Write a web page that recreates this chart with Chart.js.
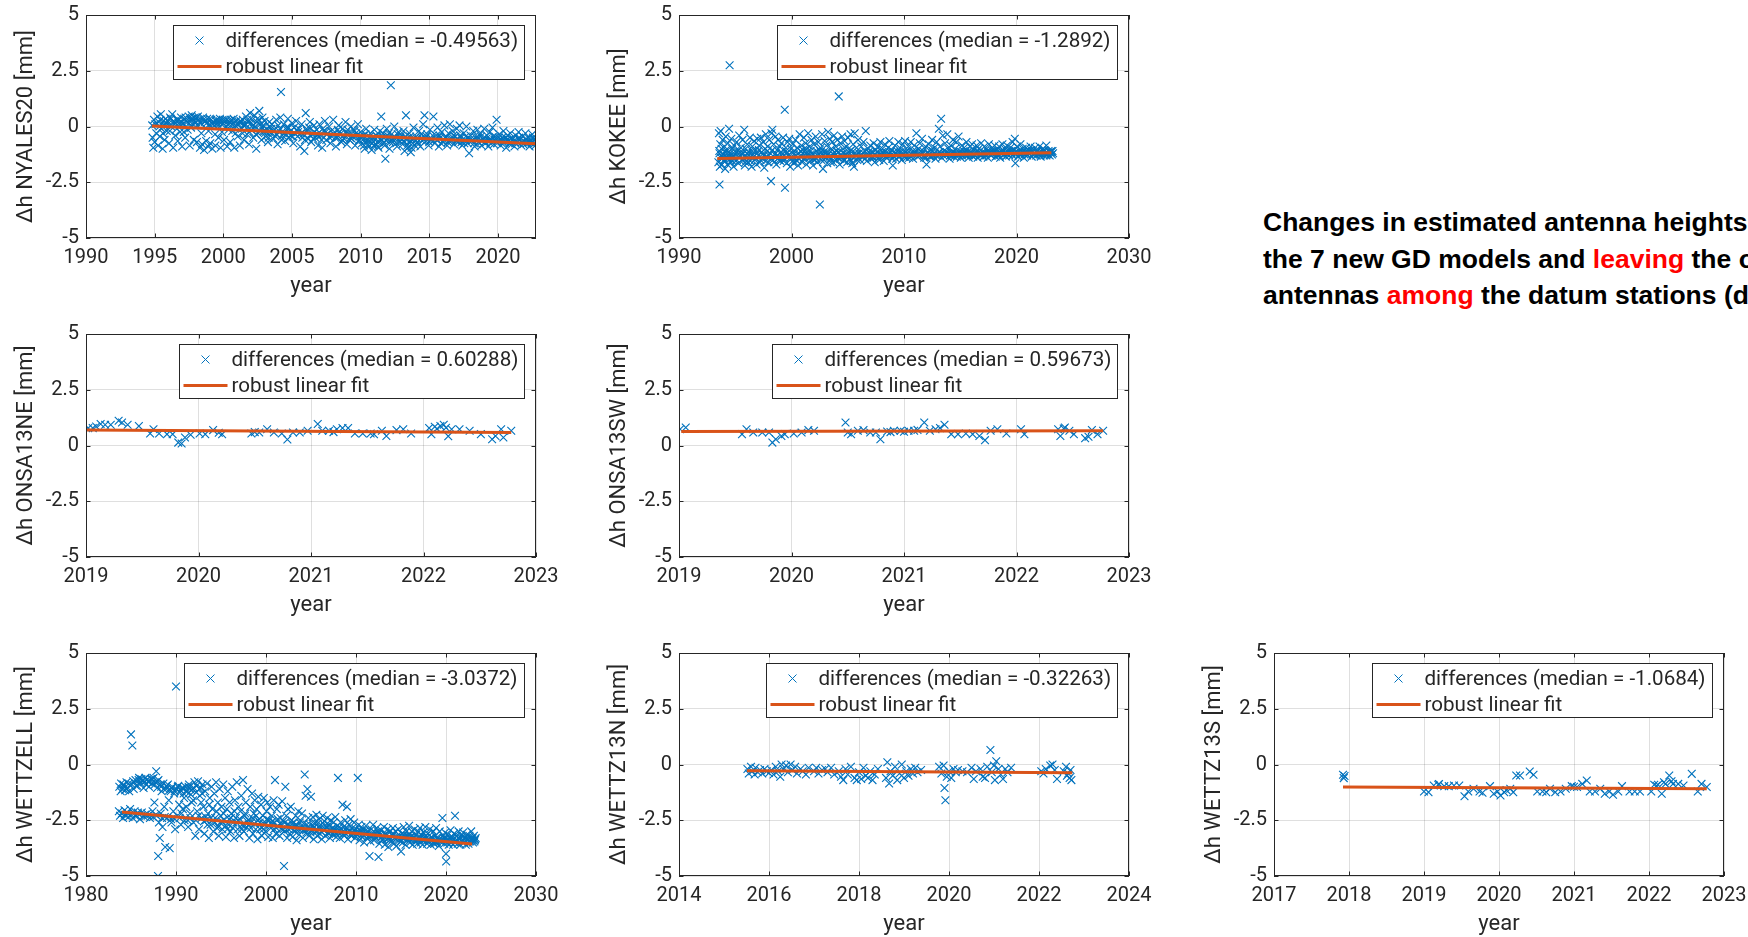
<!DOCTYPE html>
<html>
<head>
<meta charset="utf-8">
<script src="https://cdn.jsdelivr.net/npm/chart.js@4.4.1/dist/chart.umd.min.js"></script>
<style>
  body { margin: 0; background: #fff; width: 1748px; height: 937px; overflow: hidden; position: relative; }
  canvas { position: absolute; }
  #note { position: absolute; left: 1263px; top: 204px; font: bold 26.5px "Liberation Sans", Arial, sans-serif;
          line-height: 36.7px; white-space: nowrap; color: #000; }
  #note .red { color: #ff0000; }
</style>
</head>
<body>
<div id="note">Changes in estimated antenna heights<br>the 7 new GD models and <span class="red">leaving</span> the other<br>antennas <span class="red">among</span> the datum stations (d</div>
<script>
// ---- data ----
const stations = ['NYALES20', 'KOKEE', 'ONSA13NE', 'ONSA13SW', 'WETTZELL', 'WETTZ13N', 'WETTZ13S'];
const medians = ['-0.49563', '-1.2892', '0.60288', '0.59673', '-3.0372', '-0.32263', '-1.0684'];
const xMin = [1990, 1990, 2019, 2019, 1980, 2014, 2017];
const xMax = [2022.77, 2030, 2023, 2023, 2030, 2024, 2023];
const xStep = [5, 10, 1, 1, 10, 2, 1];
const yMin = -5, yMax = 5, yStep = 2.5;

// robust linear fit end points [year, mm]
const fits = [
  [[1994.8, 0.02], [2022.75, -0.77]],
  [[1993.4, -1.43], [2023.1, -1.18]],
  [[2019.0, 0.69], [2022.78, 0.58]],
  [[2019.02, 0.63], [2022.77, 0.66]],
  [[1984.0, -2.13], [2022.9, -3.57]],
  [[2015.51, -0.28], [2022.74, -0.37]],
  [[2017.92, -1.01], [2022.77, -1.09]]
];

const nyales20 = [
  [1994.82,0.05],[1994.85,-0.5],[1994.9,-0.95],[1994.95,0.3],[1995.0,-0.7],[1995.05,0.1],[1995.12,-0.3],[1995.2,0.45],[1995.25,-0.85],[1995.3,0.2],
  [1995.38,-0.45],[1995.45,0.55],[1995.5,-0.1],[1995.58,-1.0],[1995.65,0.25],[1995.72,-0.6],[1995.8,0.35],[1995.88,-0.2],[1995.95,0.1],[1996.05,-0.75],
  [1996.12,0.4],[1996.2,0.0],[1996.28,0.55],[1996.35,-0.95],[1996.42,0.2],[1996.5,-0.4],[1996.6,0.3],[1996.68,-0.65],[1996.75,0.15],[1996.85,-0.25],
  [1996.92,0.4],[1997.0,-0.9],[1997.08,0.1],[1997.15,0.35],[1997.22,-0.5],[1997.3,0.25],[1997.4,-0.15],[1997.48,0.45],[1997.55,-0.85],[1997.62,0.3],
  [1997.7,0.5],[1997.78,0.1],[1997.85,-0.6],[1997.92,0.4],[1998.0,0.2],[1998.08,-0.7],[1998.15,0.45],[1998.22,0.3],[1998.3,-0.95],[1998.38,0.15],
  [1998.45,-0.8],[1998.52,0.4],[1998.6,-1.05],[1998.68,0.25],[1998.75,-0.65],[1998.82,0.35],[1998.9,-0.9],[1998.98,0.1],[1999.05,-0.75],[1999.12,0.3],
  [1999.2,-1.0],[1999.28,0.2],[1999.35,0.05],[1999.42,-0.85],[1999.5,0.3],[1999.58,0.15],[1999.65,-0.5],[1999.72,0.25],[1999.8,-0.95],[1999.88,0.1],
  [1999.95,0.3],[2000.05,-0.6],[2000.12,0.2],[2000.2,0.0],[2000.28,-0.9],[2000.35,0.25],[2000.42,0.1],[2000.5,-0.7],[2000.58,0.3],[2000.65,-0.2],
  [2000.72,0.15],[2000.8,-0.95],[2000.88,0.05],[2000.95,0.25],[2001.05,-0.45],[2001.12,0.1],[2001.2,-0.85],[2001.28,0.2],[2001.35,-0.1],[2001.42,0.3],
  [2001.5,-0.6],[2001.58,0.05],[2001.65,0.45],[2001.72,-0.35],[2001.8,0.2],[2001.88,-0.8],[2001.95,0.6],[2002.02,-0.15],[2002.1,0.3],[2002.18,-0.5],
  [2002.25,0.5],[2002.32,0.0],[2002.4,-1.0],[2002.48,0.35],[2002.55,-0.3],[2002.62,0.7],[2002.7,0.1],[2002.78,-0.6],[2002.85,0.4],[2002.92,-0.2],
  [2003.0,0.25],[2003.08,-0.45],[2003.15,-0.1],[2003.25,-0.7],[2003.35,0.2],[2003.45,-0.3],[2003.55,0.1],[2003.65,-0.55],[2003.75,-0.15],[2003.85,0.3],
  [2003.95,-0.8],[2004.05,-0.2],[2004.15,0.4],[2004.2,1.55],[2004.3,-0.4],[2004.4,0.1],[2004.5,-0.65],[2004.6,-0.05],[2004.7,0.35],[2004.8,-0.5],
  [2004.9,-0.2],[2005.0,0.15],[2005.1,-0.75],[2005.2,-0.3],[2005.3,0.25],[2005.4,-0.45],[2005.5,-0.1],[2005.6,-0.9],[2005.7,0.1],[2005.8,-0.35],
  [2005.9,-1.1],[2006.0,0.6],[2006.1,-0.2],[2006.2,-0.55],[2006.3,0.2],[2006.4,-0.7],[2006.5,-0.3],[2006.6,0.05],[2006.7,-0.5],[2006.8,-0.15],
  [2006.9,-0.85],[2007.0,0.1],[2007.1,-0.4],[2007.2,-0.95],[2007.3,-0.2],[2007.4,0.25],[2007.5,-0.6],[2007.6,-0.3],[2007.7,0.0],[2007.8,-0.75],
  [2007.9,-0.45],[2008.0,0.3],[2008.1,-0.25],[2008.2,-0.9],[2008.3,-0.5],[2008.4,0.05],[2008.5,-0.35],[2008.6,-0.7],[2008.7,-0.1],[2008.8,-0.55],
  [2008.9,0.2],[2009.0,-0.8],[2009.1,-0.3],[2009.2,-0.6],[2009.3,0.0],[2009.4,-0.45],[2009.5,-0.15],[2009.6,-0.85],[2009.7,-0.4],[2009.8,0.1],
  [2009.9,-0.6],[2010.0,-0.25],[2010.1,-0.75],[2010.2,-0.4],[2010.3,-1.0],[2010.4,-0.1],[2010.5,-0.6],[2010.6,-0.9],[2010.7,-0.3],[2010.8,-1.05],
  [2010.9,-0.5],[2011.0,-0.15],[2011.1,-0.8],[2011.2,-0.45],[2011.3,-0.95],[2011.4,-0.2],[2011.5,0.45],[2011.55,-0.6],[2011.65,-0.3],[2011.75,-0.85],
  [2011.8,-1.45],[2011.9,-0.1],[2012.0,-0.55],[2012.1,-1.0],[2012.2,1.85],[2012.25,-0.35],[2012.35,-0.7],[2012.45,0.0],[2012.55,-0.5],[2012.65,-0.9],
  [2012.75,-0.25],[2012.85,-0.65],[2012.95,-0.4],[2013.05,-0.8],[2013.12,-0.2],[2013.2,-1.1],[2013.3,0.5],[2013.35,-0.55],[2013.45,-0.95],[2013.55,-0.3],
  [2013.65,-1.15],[2013.75,-0.6],[2013.85,-0.05],[2013.95,-0.85],[2014.05,-0.45],[2014.15,-0.7],[2014.25,-0.2],[2014.35,-0.9],[2014.45,-0.5],[2014.55,0.1],
  [2014.65,0.5],[2014.75,-0.65],[2014.85,-0.35],[2014.95,-0.85],[2015.05,-0.15],[2015.15,-0.55],[2015.3,0.45],[2015.4,-0.75],[2015.5,-0.4],[2015.6,-0.05],
  [2015.7,-0.9],[2015.8,-0.5],[2015.9,-0.25],[2016.0,-0.7],[2016.1,0.05],[2016.2,-0.45],[2016.3,-0.85],[2016.4,-0.3],[2016.5,0.1],[2016.6,-0.6],
  [2016.7,-0.2],[2016.8,-0.8],[2016.9,-0.45],[2017.0,-0.1],[2017.1,-0.7],[2017.2,0.05],[2017.3,-0.5],[2017.4,-0.85],[2017.5,-0.3],[2017.6,-0.6],
  [2017.7,0.0],[2017.8,-0.75],[2017.9,-1.2],[2018.0,-0.4],[2018.1,-0.65],[2018.2,-0.2],[2018.3,-0.9],[2018.4,-0.5],[2018.5,-0.15],[2018.6,-0.7],
  [2018.7,-0.35],[2018.8,-0.85],[2018.9,-0.55],[2019.0,-0.1],[2019.1,-0.75],[2019.2,-0.4],[2019.3,-0.9],[2019.4,-0.25],[2019.5,-0.6],[2019.6,-0.05],
  [2019.7,-0.8],[2019.8,-0.45],[2019.9,0.3],[2020.0,-0.65],[2020.1,-0.35],[2020.2,-0.85],[2020.3,-0.5],[2020.4,-0.2],[2020.5,-0.7],[2020.6,-0.95],
  [2020.7,-0.4],[2020.8,-0.6],[2020.9,-0.3],[2021.0,-0.8],[2021.1,-0.55],[2021.2,-0.9],[2021.3,-0.4],[2021.4,-0.7],[2021.5,-0.25],[2021.6,-0.6],
  [2021.7,-0.85],[2021.8,-0.45],[2021.9,-0.65],[2022.0,-0.3],[2022.1,-0.75],[2022.2,-0.5],[2022.3,-0.9],[2022.4,-0.6],[2022.5,-0.35],[2022.6,-0.8],
  [2022.7,-0.55],[2022.74,-0.7],
  [1995.15,0.15],[1995.42,0.3],[1995.68,0.05],[1995.92,0.25],[1996.18,0.35],[1996.45,0.1],[1996.72,0.3],[1996.98,0.2],[1997.25,0.4],[1997.52,0.15],
  [1997.75,0.35],[1998.05,0.4],[1998.27,0.2],[1998.55,0.3],[1998.78,0.15],[1999.02,0.35],[1999.25,0.1],[1999.48,0.25],[1999.75,0.35],[2000.0,0.15],
  [2000.25,0.3],[2000.48,0.2],[2000.75,0.35],[2001.0,0.1],[2001.25,0.25],[2001.48,0.05],[2001.75,0.3],[2002.0,0.15],[2002.22,-0.1],[2002.45,0.2],
  [2002.68,-0.2],[2002.9,0.05],[2003.12,-0.25],[2003.38,0.0],[2003.62,-0.2],[2003.88,-0.35],[2004.12,-0.1],[2004.38,-0.3],[2004.62,-0.15],[2004.88,-0.4],
  [2005.15,-0.05],[2005.45,-0.25],[2005.75,-0.5],[2006.05,-0.1],[2006.35,-0.4],[2006.65,-0.25],[2006.95,-0.45],[2007.25,-0.1],[2007.55,-0.35],[2007.85,-0.2],
  [2008.15,-0.5],[2008.45,-0.25],[2008.75,-0.4],[2009.05,-0.15],[2009.35,-0.55],[2009.65,-0.3],[2009.95,-0.45],[2010.15,-0.6],[2010.35,-0.35],[2010.55,-0.8],
  [2010.75,-0.55],[2010.95,-0.85],[2011.15,-0.4],[2011.35,-0.7],[2011.6,-0.45],[2011.85,-0.6],[2012.05,-0.3],[2012.3,-0.55],[2012.6,-0.75],[2012.9,-0.5],
  [2013.15,-0.65],[2013.4,-0.85],[2013.6,-0.45],[2013.8,-0.75],[2014.1,-0.55],[2014.4,-0.35],[2014.7,-0.5],[2015.0,-0.7],[2015.25,-0.4],[2015.55,-0.6],
  [2015.85,-0.75],[2016.15,-0.5],[2016.45,-0.65],[2016.75,-0.4],[2017.05,-0.55],[2017.35,-0.7],[2017.65,-0.45],[2017.95,-0.6],[2018.25,-0.75],[2018.55,-0.5],
  [2018.85,-0.65],[2019.15,-0.55],[2019.45,-0.75],[2019.75,-0.6],[2020.05,-0.5],[2020.35,-0.7],[2020.65,-0.6],[2020.95,-0.55],[2021.25,-0.75],[2021.55,-0.5],
  [2021.85,-0.8],[2022.15,-0.65],[2022.45,-0.75],[2022.65,-0.6],
  [1995.35,0.0],[1995.6,-0.3],[1995.85,0.15],[1996.1,-0.2],[1996.38,0.25],[1996.62,-0.1],[1996.88,0.05],[1997.12,-0.25],[1997.38,0.2],[1997.65,-0.05],
  [1997.9,0.25],[1998.12,0.05],[1998.4,-0.3],[1998.65,0.2],[1998.92,-0.2],[1999.15,0.15],[1999.4,-0.35],[1999.62,0.05],[1999.9,-0.25],[2000.1,0.3],
  [2000.38,-0.15],[2000.62,0.1],[2000.9,-0.3],[2001.15,0.2],[2001.4,-0.3],[2001.62,0.1],[2001.9,-0.25],[2002.15,0.05],[2002.38,-0.35],[2002.6,0.3],
  [2002.82,-0.05],[2003.05,-0.2],[2003.3,-0.5],[2003.5,-0.1],[2003.8,-0.45],[2004.0,0.05],[2004.25,-0.6],[2004.55,-0.35],[2004.75,-0.05],[2005.05,-0.45],
  [2005.35,-0.15],[2005.65,-0.3],[2005.95,-0.6],[2006.25,-0.05],[2006.55,-0.55],[2006.85,-0.35],[2007.15,-0.6],[2007.45,-0.25],[2007.75,-0.5],[2008.05,-0.35],
  [2008.35,-0.15],[2008.65,-0.6],[2008.95,-0.3],[2009.25,-0.5],[2009.55,-0.2],[2009.85,-0.65],[2010.05,-0.45],[2010.25,-0.85],[2010.45,-0.65],[2010.65,-0.45],
  [2010.85,-0.75],[2011.05,-0.6],[2011.25,-0.9],[2011.45,-0.55],[2011.7,-0.75],[2011.95,-0.4],[2012.15,-0.7],[2012.4,-0.5],[2012.7,-0.35],[2013.0,-0.6],
  [2013.25,-0.45],[2013.5,-0.7],[2013.7,-0.95],[2013.9,-0.55],[2014.2,-0.8],[2014.5,-0.65],[2014.8,-0.45],[2015.1,-0.6],[2015.45,-0.55],[2015.75,-0.4],
  [2016.05,-0.6],[2016.35,-0.7],[2016.65,-0.55],[2016.95,-0.65],[2017.25,-0.4],[2017.55,-0.75],[2017.85,-0.5],[2018.15,-0.6],[2018.45,-0.8],[2018.75,-0.45],
  [2019.05,-0.7],[2019.35,-0.6],[2019.65,-0.45],[2019.95,-0.75],[2020.25,-0.6],[2020.55,-0.5],[2020.85,-0.75],[2021.15,-0.65],[2021.45,-0.55],[2021.75,-0.7],
  [2022.05,-0.55],[2022.35,-0.7],[2022.55,-0.5],[2022.72,-0.85]
];

const kokee = [
  [1993.5,-1.6],[1993.55,-0.3],[1993.58,-1.1],[1993.6,-2.6],[1993.63,-1.8],[1993.67,-0.8],[1993.7,-0.2],[1993.72,-1.4],[1993.78,-1.0],[1993.82,-1.7],
  [1993.88,-0.6],[1993.92,-1.25],[1993.98,-1.55],[1994.05,-0.9],[1994.1,-1.9],[1994.15,-0.45],[1994.2,-1.35],[1994.25,-1.1],[1994.3,-1.7],[1994.35,-0.75],
  [1994.4,-1.45],[1994.45,-0.1],[1994.5,2.75],[1994.55,-1.2],[1994.6,-1.6],[1994.65,-0.55],[1994.72,-1.0],[1994.78,-1.4],[1994.85,-1.8],[1994.9,-0.85],
  [1994.98,-1.25],[1995.05,-1.55],[1995.12,-0.7],[1995.2,-1.1],[1995.28,-1.65],[1995.35,-0.4],[1995.42,-1.3],[1995.5,-0.95],[1995.58,-1.5],[1995.65,-0.6],
  [1995.72,-1.2],[1995.8,-0.15],[1995.85,-1.75],[1995.92,-1.0],[1996.0,-1.4],[1996.08,-0.8],[1996.15,-1.6],[1996.22,-1.15],[1996.3,-0.5],[1996.38,-1.35],
  [1996.45,-1.8],[1996.52,-0.9],[1996.6,-1.25],[1996.68,-0.65],[1996.75,-1.5],[1996.82,-1.05],[1996.9,-1.7],[1996.96,-0.55],[1997.05,-1.3],[1997.12,-0.85],
  [1997.2,-1.6],[1997.28,-0.5],[1997.35,-1.15],[1997.42,-1.45],[1997.5,-0.7],[1997.58,-1.85],[1997.65,-1.0],[1997.72,-0.35],[1997.8,-1.35],[1997.88,-0.9],
  [1997.95,-1.6],[1998.02,-0.6],[1998.1,-1.2],[1998.18,-2.45],[1998.22,-0.3],[1998.3,-0.15],[1998.35,-1.5],[1998.42,-0.8],[1998.5,-1.25],[1998.58,-0.45],
  [1998.65,-1.7],[1998.72,-1.05],[1998.8,-0.6],[1998.88,-1.4],[1998.95,-0.9],[1999.02,-1.55],[1999.1,-0.75],[1999.18,-1.2],[1999.25,-0.5],[1999.35,-1.45],
  [1999.4,0.75],[1999.42,-2.75],[1999.5,-0.95],[1999.58,-1.65],[1999.65,-0.7],[1999.72,-1.3],[1999.8,-0.55],[1999.88,-1.8],[1999.95,-1.0],[2000.05,-1.4],
  [2000.12,-0.8],[2000.2,-1.65],[2000.28,-1.1],[2000.35,-0.6],[2000.42,-1.5],[2000.5,-0.95],[2000.58,-1.75],[2000.65,-1.2],[2000.72,-0.35],[2000.8,-1.35],
  [2000.88,-0.85],[2000.95,-1.6],[2001.02,-1.05],[2001.1,-0.5],[2001.18,-1.4],[2001.25,-0.75],[2001.32,-1.7],[2001.4,-1.15],[2001.48,-0.3],[2001.55,-1.3],
  [2001.62,-0.9],[2001.7,-1.55],[2001.78,-0.6],[2001.85,-1.2],[2001.92,-1.75],[2002.0,-0.8],[2002.08,-1.35],[2002.15,-0.45],[2002.22,-1.1],[2002.3,-1.6],
  [2002.38,-0.7],[2002.45,-1.25],[2002.52,-3.5],[2002.58,-0.95],[2002.65,-1.5],[2002.72,-0.35],[2002.8,-1.9],[2002.88,-1.15],[2002.95,-0.65],[2003.02,-1.4],
  [2003.1,-0.85],[2003.18,-1.65],[2003.25,-0.25],[2003.32,-1.2],[2003.4,-0.55],[2003.48,-1.45],[2003.55,-1.0],[2003.62,-0.7],[2003.7,-1.6],[2003.78,-0.4],
  [2003.85,-1.3],[2003.92,-0.9],[2004.0,-1.5],[2004.08,-0.6],[2004.15,-1.15],[2004.2,1.35],[2004.28,-1.7],[2004.35,-0.75],[2004.42,-1.35],[2004.5,-0.45],
  [2004.58,-1.0],[2004.65,-1.55],[2004.72,-0.65],[2004.8,-1.25],[2004.88,-0.9],[2004.95,-1.6],[2005.02,-0.5],[2005.1,-1.15],[2005.18,-1.45],[2005.25,-0.35],
  [2005.32,-1.05],[2005.4,-1.65],[2005.48,-0.8],[2005.55,-1.8],[2005.62,-0.3],[2005.7,-1.3],[2005.78,-0.95],[2005.85,-1.5],[2005.92,-0.6],[2006.0,-1.2],
  [2006.1,-1.5],[2006.2,-0.9],[2006.3,-1.35],[2006.4,-0.7],[2006.5,-1.1],[2006.6,-0.2],[2006.7,-1.55],[2006.8,-1.0],[2006.9,-1.3],[2007.0,-0.85],
  [2007.1,-1.45],[2007.2,-1.15],[2007.3,-0.75],[2007.4,-1.6],[2007.5,-1.05],[2007.6,-1.35],[2007.7,-0.9],[2007.8,-1.5],[2007.9,-0.7],[2008.0,-1.25],
  [2008.1,-1.0],[2008.2,-1.55],[2008.3,-0.8],[2008.4,-1.2],[2008.5,-1.4],[2008.6,-0.95],[2008.7,-0.65],[2008.8,-1.3],[2008.9,-1.05],[2009.0,-1.75],
  [2009.1,-1.15],[2009.2,-0.85],[2009.3,-1.45],[2009.4,-1.1],[2009.5,-0.7],[2009.6,-1.35],[2009.7,-1.0],[2009.8,-1.5],[2009.9,-0.8],[2010.0,-1.25],
  [2010.1,-0.65],[2010.2,-1.4],[2010.3,-1.05],[2010.4,-0.9],[2010.5,-1.3],[2010.6,-0.7],[2010.7,-1.15],[2010.8,-1.45],[2010.9,-0.85],[2011.0,-1.2],
  [2011.1,-0.3],[2011.2,-1.35],[2011.3,-1.0],[2011.4,-0.75],[2011.5,-1.25],[2011.6,-0.55],[2011.7,-1.1],[2011.8,-1.4],[2011.9,-0.9],[2012.0,-1.7],
  [2012.1,-1.15],[2012.2,-0.8],[2012.3,-1.35],[2012.4,-1.05],[2012.5,-0.6],[2012.6,-1.3],[2012.7,-0.95],[2012.8,-1.45],[2012.9,-0.7],[2013.0,-1.2],
  [2013.1,-0.1],[2013.2,-0.9],[2013.3,0.35],[2013.35,-1.4],[2013.45,-0.4],[2013.55,-1.1],[2013.65,-0.75],[2013.75,-1.3],[2013.85,-0.35],[2013.95,-1.0],
  [2014.05,-1.45],[2014.15,-0.85],[2014.25,-1.2],[2014.35,-0.6],[2014.45,-1.35],[2014.55,-1.0],[2014.65,-0.7],[2014.75,-1.25],[2014.85,-0.45],[2014.95,-1.1],
  [2015.05,-1.4],[2015.15,-0.85],[2015.25,-1.2],[2015.35,-0.95],[2015.45,-1.3],[2015.55,-0.7],[2015.65,-1.15],[2015.75,-1.4],[2015.85,-0.9],[2015.95,-1.25],
  [2016.05,-0.8],[2016.15,-1.35],[2016.25,-1.05],[2016.35,-1.2],[2016.45,-0.85],[2016.55,-1.4],[2016.65,-1.0],[2016.75,-1.25],[2016.85,-0.75],[2016.95,-1.15],
  [2017.05,-1.35],[2017.15,-0.9],[2017.25,-1.2],[2017.35,-1.0],[2017.45,-1.4],[2017.55,-0.8],[2017.65,-1.15],[2017.75,-1.3],[2017.85,-0.95],[2017.95,-1.2],
  [2018.05,-0.85],[2018.15,-1.35],[2018.25,-1.05],[2018.35,-1.2],[2018.45,-0.9],[2018.55,-1.4],[2018.65,-1.1],[2018.75,-0.8],[2018.85,-1.25],[2018.95,-1.0],
  [2019.05,-1.35],[2019.15,-0.85],[2019.25,-1.15],[2019.35,-1.3],[2019.45,-0.95],[2019.55,-1.2],[2019.65,-0.7],[2019.75,-1.05],[2019.85,-0.55],[2019.9,-1.65],
  [2019.95,-1.25],[2020.05,-0.9],[2020.15,-1.35],[2020.25,-1.1],[2020.35,-0.8],[2020.45,-1.25],[2020.55,-1.0],[2020.65,-1.4],[2020.75,-1.15],[2020.85,-0.95],
  [2020.95,-1.3],[2021.05,-1.05],[2021.15,-1.2],[2021.25,-0.9],[2021.35,-1.35],[2021.45,-1.1],[2021.55,-1.25],[2021.65,-0.95],[2021.75,-1.3],[2021.85,-1.1],
  [2021.95,-1.2],[2022.05,-0.9],[2022.15,-1.35],[2022.25,-1.15],[2022.35,-1.0],[2022.45,-1.3],[2022.55,-1.2],[2022.65,-0.85],[2022.75,-1.25],[2022.85,-1.1],
  [2022.95,-1.3],[2023.05,-1.15],[2023.15,-1.25],[2023.25,-1.2],
  [1993.75,-1.3],[1994.0,-1.5],[1994.28,-1.2],[1994.58,-1.45],[1994.88,-1.3],[1995.15,-1.5],[1995.45,-1.15],[1995.75,-1.45],[1996.05,-1.2],[1996.35,-1.55],
  [1996.65,-1.35],[1996.95,-1.2],[1997.25,-1.5],[1997.55,-1.3],[1997.85,-1.1],[1998.15,-1.45],[1998.45,-1.6],[1998.75,-1.3],[1999.05,-1.15],[1999.3,-1.55],
  [1999.6,-1.2],[1999.9,-1.4],[2000.2,-1.25],[2000.5,-1.55],[2000.8,-1.1],[2001.1,-1.45],[2001.4,-1.3],[2001.7,-1.1],[2002.0,-1.5],[2002.3,-1.3],
  [2002.6,-1.15],[2002.9,-1.5],[2003.2,-1.3],[2003.5,-1.6],[2003.8,-1.15],[2004.1,-1.4],[2004.4,-1.25],[2004.7,-1.5],[2005.0,-1.3],[2005.3,-1.55],
  [2005.6,-1.2],[2005.9,-1.4],[2006.25,-1.25],[2006.55,-1.45],[2006.85,-1.15],[2007.15,-1.35],[2007.45,-1.25],[2007.75,-1.4],[2008.05,-1.15],[2008.35,-1.35],
  [2008.65,-1.25],[2008.95,-1.45],[2009.25,-1.2],[2009.55,-1.35],[2009.85,-1.25],[2010.15,-1.15],[2010.45,-1.4],[2010.75,-1.3],[2011.05,-1.1],[2011.35,-1.3],
  [2011.65,-1.2],[2011.95,-1.4],[2012.25,-1.25],[2012.55,-1.1],[2012.85,-1.3],[2013.15,-1.15],[2013.5,-1.3],[2013.8,-1.15],[2014.1,-1.3],[2014.4,-1.15],
  [2014.7,-1.35],[2015.0,-1.2],[2015.3,-1.1],[2015.6,-1.3],[2015.9,-1.15],[2016.2,-1.25],[2016.5,-1.1],[2016.8,-1.3],[2017.1,-1.2],[2017.4,-1.1],
  [2017.7,-1.25],[2018.0,-1.1],[2018.3,-1.3],[2018.6,-1.2],[2018.9,-1.1],[2019.2,-1.25],[2019.5,-1.1],[2019.8,-1.2],[2020.1,-1.15],[2020.4,-1.05],
  [2020.7,-1.25],[2021.0,-1.15],[2021.3,-1.05],[2021.6,-1.2],[2021.9,-1.1],[2022.2,-1.25],[2022.5,-1.05],[2022.8,-1.2],[2023.1,-1.1],
  [1993.6,-1.2],[1993.9,-1.4],[1994.18,-1.05],[1994.45,-1.35],[1994.75,-1.55],[1995.02,-1.1],[1995.32,-1.35],[1995.62,-1.25],[1995.9,-1.6],[1996.2,-1.3],
  [1996.5,-1.1],[1996.8,-1.45],[1997.1,-1.05],[1997.4,-1.25],[1997.7,-1.55],[1998.0,-1.3],[1998.3,-1.05],[1998.6,-1.2],[1998.9,-1.5],[1999.2,-1.35],
  [1999.5,-1.1],[1999.8,-1.25],[2000.1,-1.55],[2000.4,-1.3],[2000.7,-1.45],[2001.0,-1.2],[2001.3,-1.0],[2001.6,-1.4],[2001.9,-1.25],[2002.2,-1.45],
  [2002.5,-1.05],[2002.8,-1.3],[2003.1,-1.15],[2003.4,-1.35],[2003.7,-1.25],[2004.0,-1.1],[2004.3,-1.45],[2004.6,-1.2],[2004.9,-1.35],[2005.2,-1.1],
  [2005.5,-1.4],[2005.8,-1.25],[2006.1,-1.3],[2006.4,-1.2],[2006.7,-1.35],[2007.0,-1.2],[2007.3,-1.4],[2007.6,-1.15],[2007.9,-1.3],[2008.2,-1.2],
  [2008.5,-1.3],[2008.8,-1.15],[2009.1,-1.35],[2009.4,-1.25],[2009.7,-1.15],[2010.0,-1.35],[2010.3,-1.2],[2010.6,-1.35],[2010.9,-1.15],[2011.2,-1.25],
  [2011.5,-1.1],[2011.8,-1.3],[2012.1,-1.2],[2012.4,-1.35],[2012.7,-1.2],[2013.0,-1.3],[2013.3,-1.2],[2013.65,-1.25],[2013.95,-1.2],[2014.25,-1.3],
  [2014.55,-1.2],[2014.85,-1.25],[2015.15,-1.3],[2015.45,-1.15],[2015.75,-1.25],[2016.05,-1.2],[2016.35,-1.3],[2016.65,-1.15],[2016.95,-1.25],[2017.25,-1.3],
  [2017.55,-1.2],[2017.85,-1.1],[2018.15,-1.2],[2018.45,-1.3],[2018.75,-1.15],[2019.05,-1.2],[2019.35,-1.1],[2019.65,-1.3],[2019.95,-1.15],[2020.25,-1.25],
  [2020.55,-1.15],[2020.85,-1.2],[2021.15,-1.1],[2021.45,-1.25],[2021.75,-1.15],[2022.05,-1.2],[2022.35,-1.1],[2022.65,-1.3],[2022.95,-1.15],[2023.2,-1.1]
];

const onsa13ne = [
  [2019.02,0.78],[2019.06,0.78],[2019.09,0.85],[2019.13,0.96],[2019.17,0.93],[2019.22,0.93],[2019.29,1.11],[2019.32,1.03],[2019.37,0.93],[2019.47,0.87],
  [2019.57,0.54],[2019.6,0.73],[2019.65,0.54],[2019.72,0.51],[2019.77,0.51],[2019.82,0.13],[2019.85,0.09],[2019.88,0.36],[2019.93,0.48],[2020.01,0.54],
  [2020.06,0.51],[2020.13,0.69],[2020.18,0.57],[2020.21,0.51],[2020.47,0.54],[2020.5,0.6],[2020.54,0.58],[2020.61,0.73],[2020.67,0.58],[2020.74,0.54],
  [2020.79,0.27],[2020.84,0.58],[2020.9,0.58],[2020.97,0.66],[2021.06,0.96],[2021.1,0.66],[2021.16,0.66],[2021.2,0.6],[2021.23,0.73],[2021.28,0.78],
  [2021.33,0.78],[2021.39,0.54],[2021.46,0.54],[2021.53,0.54],[2021.56,0.51],[2021.63,0.66],[2021.67,0.43],[2021.76,0.69],[2021.82,0.73],[2021.89,0.54],
  [2022.05,0.78],[2022.07,0.51],[2022.1,0.84],[2022.12,0.75],[2022.15,0.87],[2022.18,0.93],[2022.2,0.8],[2022.22,0.42],[2022.25,0.73],[2022.32,0.73],
  [2022.41,0.66],[2022.51,0.51],[2022.61,0.28],[2022.64,0.43],[2022.69,0.73],[2022.71,0.36],[2022.78,0.66]
];

const onsa13sw = [
  [2019.01,0.73],[2019.06,0.81],[2019.56,0.51],[2019.6,0.73],[2019.66,0.58],[2019.74,0.58],[2019.8,0.58],[2019.83,0.13],[2019.86,0.28],[2019.91,0.43],
  [2019.94,0.51],[2020.02,0.54],[2020.09,0.58],[2020.15,0.69],[2020.2,0.66],[2020.48,1.03],[2020.5,0.58],[2020.53,0.51],[2020.59,0.66],[2020.64,0.69],
  [2020.7,0.58],[2020.75,0.58],[2020.79,0.28],[2020.85,0.63],[2020.88,0.6],[2020.91,0.66],[2020.97,0.66],[2021.0,0.62],[2021.04,0.66],[2021.09,0.66],
  [2021.12,0.7],[2021.18,1.03],[2021.23,0.66],[2021.28,0.73],[2021.32,0.78],[2021.36,0.93],[2021.42,0.51],[2021.48,0.51],[2021.55,0.54],[2021.61,0.51],
  [2021.67,0.43],[2021.72,0.24],[2021.77,0.66],[2021.83,0.73],[2021.91,0.54],[2022.04,0.73],[2022.07,0.51],[2022.37,0.73],[2022.39,0.43],[2022.42,0.76],
  [2022.43,0.81],[2022.47,0.66],[2022.51,0.51],[2022.61,0.33],[2022.64,0.39],[2022.67,0.69],[2022.72,0.51],[2022.77,0.66]
];

const wettzell = [
  [1983.65,-2.1],[1983.7,-1.0],[1983.78,-2.3],[1983.85,-1.2],[1983.9,-0.85],[1983.98,-2.2],[1984.05,-1.1],[1984.12,-2.4],[1984.2,-0.95],[1984.28,-2.05],
  [1984.35,-1.15],[1984.42,-2.3],[1984.5,-0.8],[1984.58,-2.15],[1984.65,-1.05],[1984.72,-2.35],[1984.8,-1.2],[1984.9,-2.0],[1985.0,1.35],[1985.05,-2.25],
  [1985.1,-0.9],[1985.15,0.85],[1985.2,-2.4],[1985.3,-1.1],[1985.4,-2.1],[1985.5,-0.7],[1985.6,-2.3],[1985.7,-0.95],[1985.8,-2.2],[1985.9,-0.6],
  [1986.0,-2.45],[1986.1,-0.85],[1986.2,-2.15],[1986.3,-0.7],[1986.4,-1.05],[1986.5,-2.35],[1986.6,-0.6],[1986.7,-0.9],[1986.8,-2.2],[1986.9,-0.75],
  [1987.0,-1.0],[1987.1,-2.4],[1987.2,-0.65],[1987.3,-0.85],[1987.4,-2.1],[1987.5,-0.6],[1987.6,-1.7],[1987.7,-0.8],[1987.8,-0.3],[1987.85,-2.3],
  [1987.9,-1.05],[1988.0,-5.0],[1988.02,-4.1],[1988.05,-0.7],[1988.1,-2.6],[1988.2,-3.3],[1988.25,-0.9],[1988.3,-2.2],[1988.4,-1.2],[1988.5,-2.8],
  [1988.6,-0.85],[1988.7,-1.9],[1988.8,-3.7],[1988.9,-1.1],[1989.0,-2.4],[1989.1,-0.9],[1989.2,-1.6],[1989.3,-3.75],[1989.4,-1.2],[1989.5,-2.6],
  [1989.6,-1.0],[1989.7,-2.1],[1989.8,-1.3],[1989.9,-2.9],[1990.0,3.5],[1990.05,-1.1],[1990.15,-2.3],[1990.25,-0.95],[1990.35,-1.8],[1990.45,-1.25],
  [1990.55,-2.7],[1990.65,-1.05],[1990.75,-2.0],[1990.85,-1.3],[1990.95,-2.5],[1991.05,-1.0],[1991.15,-1.9],[1991.25,-1.2],[1991.35,-2.8],[1991.45,-0.9],
  [1991.55,-2.2],[1991.65,-1.35],[1991.75,-1.7],[1991.85,-1.1],[1991.95,-2.6],[1992.05,-0.8],[1992.15,-3.2],[1992.25,-1.25],[1992.35,-2.1],[1992.45,-0.75],
  [1992.55,-2.9],[1992.65,-1.4],[1992.75,-1.05],[1992.85,-2.4],[1992.95,-0.9],[1993.05,-1.9],[1993.15,-3.1],[1993.25,-1.2],[1993.35,-2.5],[1993.45,-0.85],
  [1993.55,-2.2],[1993.65,-3.3],[1993.75,-1.5],[1993.85,-2.7],[1993.95,-1.0],[1994.05,-2.0],[1994.15,-3.0],[1994.25,-1.3],[1994.35,-2.4],[1994.45,-0.8],
  [1994.55,-2.85],[1994.65,-1.7],[1994.75,-3.2],[1994.85,-1.1],[1994.95,-2.3],[1995.05,-1.9],[1995.15,-2.9],[1995.25,-0.9],[1995.35,-2.5],[1995.45,-1.5],
  [1995.55,-3.25],[1995.65,-2.0],[1995.75,-1.2],[1995.85,-2.7],[1995.95,-1.7],[1996.05,-3.0],[1996.15,-2.2],[1996.25,-1.0],[1996.35,-2.6],[1996.45,-3.3],
  [1996.55,-1.6],[1996.65,-2.4],[1996.75,-0.8],[1996.85,-2.9],[1996.95,-1.9],[1997.05,-3.2],[1997.15,-2.1],[1997.25,-1.4],[1997.35,-2.7],[1997.45,-0.7],
  [1997.55,-3.0],[1997.65,-2.3],[1997.75,-1.7],[1997.85,-2.8],[1997.95,-1.1],[1998.05,-2.5],[1998.15,-3.3],[1998.25,-1.9],[1998.35,-2.6],[1998.45,-1.3],
  [1998.55,-3.1],[1998.65,-2.2],[1998.75,-1.6],[1998.85,-2.9],[1998.95,-2.0],[1999.05,-3.35],[1999.15,-1.45],[1999.25,-2.45],[1999.35,-2.9],[1999.45,-1.8],
  [1999.55,-3.2],[1999.65,-2.3],[1999.75,-1.5],[1999.85,-2.7],[1999.95,-3.0],[2000.05,-2.1],[2000.15,-1.7],[2000.25,-3.25],[2000.35,-2.5],[2000.45,-1.9],
  [2000.55,-2.85],[2000.65,-2.3],[2000.75,-3.3],[2000.85,-1.6],[2000.95,-2.6],[2001.0,-0.7],[2001.1,-3.1],[2001.2,-2.0],[2001.3,-2.75],[2001.4,-1.8],
  [2001.5,-3.2],[2001.6,-2.4],[2001.7,-2.9],[2001.8,-1.65],[2001.9,-2.55],[2002.0,-4.55],[2002.05,-3.0],[2002.15,-1.0],[2002.25,-2.3],[2002.35,-3.3],
  [2002.45,-2.0],[2002.55,-2.7],[2002.65,-3.1],[2002.75,-1.9],[2002.85,-2.5],[2002.95,-3.25],[2003.1,-2.6],[2003.2,-3.0],[2003.3,-2.3],[2003.4,-3.4],
  [2003.5,-2.75],[2003.6,-2.1],[2003.7,-3.15],[2003.8,-2.5],[2003.9,-2.9],[2004.0,-2.2],[2004.1,-3.3],[2004.2,-2.65],[2004.3,-0.45],[2004.4,-1.4],
  [2004.5,-3.05],[2004.6,-1.1],[2004.7,-2.4],[2004.8,-3.2],[2004.9,-2.7],[2005.0,-1.45],[2005.1,-2.95],[2005.2,-2.35],[2005.3,-3.35],[2005.4,-2.6],
  [2005.5,-3.0],[2005.6,-2.25],[2005.7,-3.2],[2005.8,-2.8],[2005.9,-2.45],[2006.0,-3.1],[2006.1,-2.7],[2006.2,-3.35],[2006.3,-2.3],[2006.4,-2.95],
  [2006.5,-2.55],[2006.6,-3.2],[2006.7,-2.8],[2006.8,-2.4],[2006.9,-3.05],[2007.0,-2.7],[2007.1,-3.3],[2007.2,-2.5],[2007.3,-2.9],[2007.4,-3.15],
  [2007.5,-2.6],[2007.6,-3.0],[2007.7,-2.35],[2007.8,-3.25],[2007.9,-2.75],[2008.0,-0.6],[2008.1,-2.95],[2008.2,-3.3],[2008.3,-2.6],[2008.4,-3.05],
  [2008.5,-1.8],[2008.6,-2.8],[2008.7,-3.2],[2008.8,-2.5],[2008.9,-2.95],[2009.0,-1.9],[2009.1,-3.35],[2009.2,-2.7],[2009.3,-3.0],[2009.4,-2.45],
  [2009.5,-3.2],[2009.6,-2.85],[2009.7,-3.1],[2009.8,-2.6],[2009.9,-3.3],[2010.0,-2.9],[2010.1,-3.15],[2010.2,-0.6],[2010.3,-2.7],[2010.4,-3.4],
  [2010.5,-3.0],[2010.6,-2.8],[2010.7,-3.25],[2010.8,-2.95],[2010.9,-3.5],[2011.0,-3.1],[2011.1,-2.75],[2011.2,-3.3],[2011.3,-3.0],[2011.5,-4.1],
  [2011.6,-3.45],[2011.7,-2.9],[2011.8,-3.2],[2011.9,-2.7],[2012.0,-3.4],[2012.1,-3.05],[2012.2,-3.3],[2012.3,-2.85],[2012.5,-4.15],[2012.6,-3.55],
  [2012.7,-3.15],[2012.8,-2.95],[2012.9,-3.4],[2013.0,-3.2],[2013.1,-2.8],[2013.2,-3.6],[2013.3,-3.1],[2013.4,-3.35],[2013.5,-2.9],[2013.6,-3.7],
  [2013.7,-3.25],[2013.8,-3.0],[2013.9,-3.45],[2014.0,-3.15],[2014.1,-2.85],[2014.2,-3.55],[2014.3,-3.3],[2014.4,-3.0],[2014.5,-3.65],[2014.6,-3.2],
  [2014.7,-2.9],[2014.8,-3.4],[2015.0,-3.9],[2015.1,-3.1],[2015.2,-3.5],[2015.3,-2.8],[2015.4,-3.3],[2015.5,-3.6],[2015.6,-3.0],[2015.7,-3.4],
  [2015.8,-3.2],[2015.9,-2.75],[2016.0,-3.5],[2016.1,-3.25],[2016.2,-3.0],[2016.3,-3.6],[2016.4,-3.3],[2016.5,-2.9],[2016.6,-3.45],[2016.7,-3.15],
  [2016.8,-3.55],[2016.9,-3.0],[2017.0,-3.35],[2017.1,-2.85],[2017.2,-3.5],[2017.3,-3.2],[2017.4,-3.6],[2017.5,-3.05],[2017.6,-3.4],[2017.7,-2.8],
  [2017.8,-3.3],[2017.9,-3.55],[2018.0,-3.1],[2018.1,-3.45],[2018.2,-2.9],[2018.3,-3.6],[2018.4,-3.25],[2018.5,-3.4],[2018.6,-3.0],[2018.7,-3.55],
  [2018.8,-3.2],[2018.9,-2.85],[2019.0,-3.5],[2019.1,-3.3],[2019.2,-3.65],[2019.3,-3.0],[2019.4,-3.4],[2019.6,-2.4],[2019.7,-3.2],[2019.8,-3.55],
  [2019.9,-3.05],[2020.0,-4.0],[2020.02,-4.35],[2020.1,-3.4],[2020.2,-3.15],[2020.3,-3.6],[2020.4,-3.3],[2020.5,-2.95],[2020.6,-3.5],[2020.7,-3.25],
  [2020.8,-3.6],[2020.9,-3.1],[2021.0,-2.3],[2021.1,-3.45],[2021.2,-3.2],[2021.3,-3.55],[2021.4,-3.0],[2021.5,-3.35],[2021.6,-3.6],[2021.7,-3.2],
  [2021.8,-3.45],[2021.9,-3.05],[2022.0,-3.5],[2022.1,-3.3],[2022.2,-3.6],[2022.3,-3.15],[2022.4,-3.4],[2022.5,-3.55],[2022.6,-3.2],[2022.7,-3.45],
  [2022.8,-3.0],[2022.9,-3.35],[2023.0,-3.5],[2023.1,-3.2],[2023.2,-3.4],[2023.3,-3.3],
  [1984.15,-0.9],[1984.45,-1.1],[1984.75,-0.85],[1985.25,-0.75],[1985.55,-0.95],[1985.85,-0.7],[1986.15,-0.65],[1986.45,-0.8],[1986.75,-0.7],[1987.05,-0.75],
  [1987.35,-0.65],[1987.65,-0.9],[1987.95,-0.75],[1988.35,-1.0],[1988.65,-1.1],[1988.95,-0.95],[1989.25,-1.15],[1989.55,-1.05],[1989.85,-1.2],[1990.2,-1.0],
  [1990.5,-1.15],[1990.8,-1.05],[1991.1,-1.2],[1991.4,-1.0],[1991.7,-1.15],[1992.0,-1.05],[1992.3,-0.95],[1992.6,-1.1],[1992.9,-1.3],[1984.3,-2.25],
  [1985.45,-2.3],[1986.55,-2.25],[1987.45,-2.35],[1988.45,-2.4],[1989.45,-2.45],[1990.4,-2.4],[1991.3,-2.5],[1992.2,-2.5],[1993.1,-2.55],[1993.5,-2.7],
  [1993.9,-2.4],[1994.3,-2.6],[1994.7,-2.8],[1995.1,-2.55],[1995.5,-2.75],[1995.9,-2.45],[1996.3,-2.85],[1996.7,-2.6],[1997.1,-2.45],[1997.5,-2.75],
  [1997.9,-2.55],[1998.3,-2.85],[1998.7,-2.65],[1999.1,-2.5],[1999.5,-2.8],[1999.9,-2.6],[2000.3,-2.75],[2000.7,-2.55],[2001.15,-2.85],[2001.55,-2.65],
  [2001.95,-2.9],[2002.4,-2.7],[2002.8,-2.85],[2003.25,-2.75],[2003.65,-2.9],[2004.05,-2.8],[2004.45,-2.95],[2004.85,-2.85],[2005.25,-2.75],[2005.65,-3.0],
  [2006.05,-2.85],[2006.45,-2.95],[2006.85,-2.8],[2007.25,-3.0],[2007.65,-2.9],[2008.05,-3.05],[2008.45,-2.9],[2008.85,-3.1],[2009.25,-2.95],[2009.65,-3.05],
  [2010.05,-3.1],[2010.45,-2.95],[2010.85,-3.2],[2011.25,-3.05],[2011.65,-3.2],[2012.05,-3.15],[2012.45,-3.0],[2012.85,-3.25],[2013.25,-3.15],[2013.65,-3.3],
  [2014.05,-3.2],[2014.45,-3.35],[2014.85,-3.2],[2015.25,-3.3],[2015.65,-3.2],[2016.05,-3.35],[2016.45,-3.25],[2016.85,-3.4],[2017.25,-3.3],[2017.65,-3.25],
  [2018.05,-3.4],[2018.45,-3.3],[2018.85,-3.45],[2019.25,-3.35],[2019.65,-3.4],[2020.05,-3.3],[2020.45,-3.45],[2020.85,-3.35],[2021.25,-3.4],[2021.65,-3.3],
  [2022.05,-3.45],[2022.45,-3.35],[2022.85,-3.4],[2023.25,-3.35],
  [1984.6,-2.2],[1985.75,-2.15],[1986.85,-2.3],[1987.75,-2.25],[1988.75,-2.35],[1989.75,-2.4],[1990.6,-2.2],[1990.9,-1.5],[1991.6,-2.4],[1991.9,-1.6],
  [1992.5,-2.3],[1992.8,-1.7],[1993.3,-2.35],[1993.7,-1.8],[1994.1,-2.5],[1994.5,-2.1],[1994.9,-2.6],[1995.3,-2.2],[1995.7,-2.9],[1996.1,-2.4],
  [1996.5,-2.1],[1996.9,-2.5],[1997.3,-2.9],[1997.7,-2.2],[1998.1,-2.7],[1998.5,-2.4],[1998.9,-2.3],[1999.3,-2.6],[1999.7,-2.9],[2000.1,-2.45],
  [2000.5,-2.65],[2000.9,-2.9],[2001.3,-2.45],[2001.7,-2.7],[2002.1,-2.6],[2002.5,-2.9],[2002.9,-2.65],[2003.35,-2.9],[2003.75,-2.6],[2004.15,-2.95],
  [2004.55,-2.7],[2004.95,-3.05],[2005.35,-2.8],[2005.75,-2.65],[2006.15,-3.0],[2006.55,-2.75],[2006.95,-3.1],[2007.35,-2.85],[2007.75,-3.1],[2008.15,-2.8],
  [2008.55,-3.1],[2008.95,-2.85],[2009.35,-3.15],[2009.75,-2.95],[2010.15,-3.05],[2010.55,-3.2],[2010.95,-3.0],[2011.35,-3.25],[2011.75,-3.1],[2012.15,-3.25],
  [2012.55,-3.1],[2012.95,-3.35],[2013.35,-3.2],[2013.75,-3.4],[2014.15,-3.1],[2014.55,-3.3],[2014.95,-3.45],[2015.35,-3.15],[2015.75,-3.35],[2016.15,-3.2],
  [2016.55,-3.4],[2016.95,-3.25],[2017.35,-3.4],[2017.75,-3.2],[2018.15,-3.35],[2018.55,-3.5],[2018.95,-3.3],[2019.35,-3.45],[2019.75,-3.3],[2020.15,-3.5],
  [2020.55,-3.35],[2020.95,-3.5],[2021.35,-3.3],[2021.75,-3.45],[2022.15,-3.3],[2022.55,-3.45],[2022.95,-3.3],[2023.15,-3.45]
];

const wettz13n = [
  [2015.52,-0.2],[2015.55,-0.4],[2015.6,-0.1],[2015.63,-0.3],[2015.68,-0.45],[2015.7,-0.15],[2015.75,-0.35],[2015.8,-0.25],[2015.85,-0.4],[2015.9,-0.2],
  [2015.95,-0.3],[2016.0,-0.38],[2016.05,-0.25],[2016.1,-0.45],[2016.15,-0.1],[2016.2,-0.3],[2016.25,-0.55],[2016.28,0.0],[2016.32,-0.2],[2016.38,-0.05],
  [2016.42,-0.35],[2016.48,0.0],[2016.52,-0.25],[2016.58,-0.1],[2016.62,-0.4],[2016.7,-0.2],[2016.75,-0.3],[2016.82,-0.45],[2016.88,-0.15],[2017.0,-0.3],
  [2017.05,-0.15],[2017.1,-0.4],[2017.18,-0.25],[2017.25,-0.2],[2017.3,-0.35],[2017.38,-0.15],[2017.45,-0.45],[2017.55,-0.3],[2017.6,-0.55],[2017.65,-0.7],
  [2017.7,-0.2],[2017.75,-0.45],[2017.82,-0.1],[2017.9,-0.6],[2017.95,-0.7],[2018.0,-0.35],[2018.05,-0.65],[2018.1,-0.15],[2018.15,-0.5],[2018.2,-0.6],
  [2018.25,-0.3],[2018.3,-0.7],[2018.35,-0.45],[2018.42,-0.2],[2018.6,-0.6],[2018.63,0.1],[2018.67,-0.85],[2018.7,-0.3],[2018.75,-0.5],[2018.8,-0.1],
  [2018.85,-0.7],[2018.9,-0.4],[2018.95,0.0],[2019.0,-0.6],[2019.05,-0.3],[2019.1,-0.5],[2019.15,-0.2],[2019.2,-0.4],[2019.25,-0.15],[2019.3,-0.35],
  [2019.38,-0.25],[2019.78,-0.1],[2019.83,-0.4],[2019.88,-0.05],[2019.9,-1.05],[2019.92,-1.6],[2019.95,-0.55],[2020.0,-0.3],[2020.05,-0.6],[2020.1,-0.2],
  [2020.15,-0.35],[2020.2,-0.25],[2020.3,-0.3],[2020.4,-0.35],[2020.5,-0.15],[2020.55,-0.65],[2020.6,-0.3],[2020.7,-0.2],[2020.75,-0.55],[2020.8,-0.6],
  [2020.85,-0.1],[2020.92,0.65],[2020.95,-0.35],[2021.0,-0.05],[2021.02,-0.7],[2021.05,0.15],[2021.1,-0.2],[2021.15,-0.45],[2021.2,-0.65],[2021.25,-0.2],
  [2021.3,-0.35],[2021.38,-0.15],[2022.05,-0.3],[2022.1,-0.4],[2022.15,-0.2],[2022.25,-0.05],[2022.3,0.0],[2022.35,-0.25],[2022.4,-0.65],[2022.55,-0.3],
  [2022.6,-0.1],[2022.62,-0.5],[2022.65,-0.4],[2022.68,-0.6],[2022.7,-0.25],[2022.72,-0.7]
];

const wettz13s = [
  [2017.92,-0.46],[2017.93,-0.61],[2017.94,-0.52],[2019.0,-1.21],[2019.06,-1.24],[2019.13,-0.94],[2019.19,-0.91],[2019.2,-0.88],[2019.27,-0.97],[2019.33,-0.97],
  [2019.4,-0.94],[2019.47,-0.94],[2019.54,-1.42],[2019.59,-1.21],[2019.66,-1.09],[2019.74,-1.21],[2019.78,-1.27],[2019.88,-0.97],[2019.93,-1.31],[2019.98,-1.21],
  [2020.02,-1.39],[2020.07,-1.24],[2020.1,-1.15],[2020.15,-1.09],[2020.19,-1.24],[2020.23,-0.49],[2020.28,-0.49],[2020.41,-0.31],[2020.46,-0.46],[2020.51,-1.21],
  [2020.58,-1.21],[2020.63,-1.24],[2020.68,-1.09],[2020.75,-1.24],[2020.82,-1.21],[2020.89,-1.09],[2020.97,-0.97],[2021.0,-1.0],[2021.04,-1.01],[2021.11,-0.87],
  [2021.17,-0.72],[2021.21,-1.21],[2021.28,-1.21],[2021.35,-1.09],[2021.41,-1.31],[2021.47,-1.21],[2021.52,-1.36],[2021.59,-1.21],[2021.64,-0.97],[2021.74,-1.21],
  [2021.81,-1.21],[2021.88,-1.21],[2022.03,-1.21],[2022.07,-0.91],[2022.1,-0.95],[2022.12,-0.91],[2022.17,-1.31],[2022.2,-0.8],[2022.22,-0.87],[2022.27,-0.49],
  [2022.3,-0.75],[2022.32,-0.87],[2022.39,-0.87],[2022.46,-0.94],[2022.57,-0.42],[2022.65,-1.21],[2022.7,-0.87],[2022.77,-1.01]
];

const diffs = [nyales20, kokee, onsa13ne, onsa13sw, wettzell, wettz13n, wettz13s];

// ---- layout (page pixels) ----
const boxes = [[86, 15], [679, 15], [86, 334], [679, 334], [86, 653], [679, 653], [1274, 653]];
const plotW = 450, plotH = 223;
const leftSpace = 87, topSpace = 20, rightSpace = 33, bottomSpace = 65;

const ink = '#262626';
const blue = '#0072BD';
const orange = '#D95319';
const font = 'Roboto';

const frame = {
  id: 'frame',
  afterDraw(chart, args, opts) {
    const { ctx, chartArea: a, scales: { x, y } } = chart;
    ctx.save();
    ctx.strokeStyle = ink;
    ctx.lineWidth = 1;
    ctx.strokeRect(Math.round(a.left) + 0.5, Math.round(a.top) + 0.5, Math.round(a.width) - 1, Math.round(a.height) - 1);

    // inward tick marks on all four sides
    ctx.beginPath();
    x.ticks.forEach(t => {
      const px = Math.round(x.getPixelForValue(t.value)) + 0.5;
      ctx.moveTo(px, a.bottom); ctx.lineTo(px, a.bottom - 4.5);
      ctx.moveTo(px, a.top); ctx.lineTo(px, a.top + 4.5);
    });
    y.ticks.forEach(t => {
      const py = Math.round(y.getPixelForValue(t.value)) + 0.5;
      ctx.moveTo(a.left, py); ctx.lineTo(a.left + 4.5, py);
      ctx.moveTo(a.right, py); ctx.lineTo(a.right - 4.5, py);
    });
    ctx.stroke();

    // legend box, top right inside the axes
    ctx.font = `20.6px ${font}`;
    const t1 = opts.label, t2 = 'robust linear fit';
    const w = Math.ceil(Math.max(ctx.measureText(t1).width, ctx.measureText(t2).width)) + 58;
    const h = 54;
    const lx = Math.round(a.right - 12 - w) + 0.5;
    const ly = Math.round(a.top + 10) + 0.5;
    ctx.fillStyle = '#fff';
    ctx.fillRect(lx, ly, w, h);
    ctx.strokeStyle = ink;
    ctx.strokeRect(lx, ly, w, h);

    const r1 = ly + 15, r2 = ly + 41;
    ctx.strokeStyle = blue;
    ctx.beginPath();
    ctx.moveTo(lx + 22, r1 - 4); ctx.lineTo(lx + 30, r1 + 4);
    ctx.moveTo(lx + 22, r1 + 4); ctx.lineTo(lx + 30, r1 - 4);
    ctx.stroke();
    ctx.strokeStyle = orange;
    ctx.lineWidth = 3;
    ctx.beginPath();
    ctx.moveTo(lx + 4, r2); ctx.lineTo(lx + 48, r2);
    ctx.stroke();

    ctx.fillStyle = ink;
    ctx.textBaseline = 'middle';
    ctx.textAlign = 'left';
    ctx.fillText(t1, lx + 52, r1 + 1);
    ctx.fillText(t2, lx + 52, r2 + 1);
    ctx.restore();
  }
};

stations.forEach((name, i) => {
  const [bx, by] = boxes[i];
  const canvas = document.createElement('canvas');
  canvas.width = leftSpace + plotW + rightSpace;
  canvas.height = topSpace + plotH + bottomSpace;
  canvas.style.left = (bx - leftSpace) + 'px';
  canvas.style.top = (by - topSpace) + 'px';
  document.body.appendChild(canvas);

  new Chart(canvas, {
    type: 'scatter',
    data: {
      datasets: [
        {
          label: 'robust linear fit',
          data: fits[i].map(([x, y]) => ({ x, y })),
          showLine: true,
          borderColor: orange,
          borderWidth: 3,
          pointRadius: 0,
          order: 0
        },
        {
          label: 'differences',
          data: diffs[i].map(([x, y]) => ({ x, y })),
          pointStyle: 'crossRot',
          pointRadius: 5.5,
          borderColor: blue,
          backgroundColor: blue,
          pointBorderWidth: 1.1,
          order: 1
        }
      ]
    },
    options: {
      responsive: false,
      animation: false,
      events: [],
      layout: { padding: { left: 0, top: topSpace, right: rightSpace, bottom: 0 } },
      scales: {
        x: {
          type: 'linear',
          min: xMin[i],
          max: xMax[i],
          afterFit: s => { s.height = bottomSpace; },
          ticks: {
            stepSize: xStep[i],
            includeBounds: false,
            padding: 8,
            color: ink,
            font: { family: font, size: 20 },
            callback: v => String(v)
          },
          grid: { color: 'rgba(38,38,38,0.15)', drawTicks: false },
          border: { display: false },
          title: { display: true, text: 'year', color: ink, font: { family: font, size: 22 }, padding: { top: 0, bottom: 3 } }
        },
        y: {
          min: yMin,
          max: yMax,
          afterFit: s => { s.width = leftSpace; },
          ticks: {
            stepSize: yStep,
            padding: 7,
            color: ink,
            font: { family: font, size: 20 },
            callback: v => String(v)
          },
          grid: { color: 'rgba(38,38,38,0.15)', drawTicks: false },
          border: { display: false },
          title: { display: true, text: `\u0394h ${name} [mm]`, color: ink, font: { family: font, size: 22 }, padding: { top: 14, bottom: 0 } }
        }
      },
      plugins: {
        legend: { display: false },
        tooltip: { enabled: false },
        frame: { label: `differences (median = ${medians[i]})` }
      }
    },
    plugins: [frame]
  });
});
</script>
</body>
</html>
